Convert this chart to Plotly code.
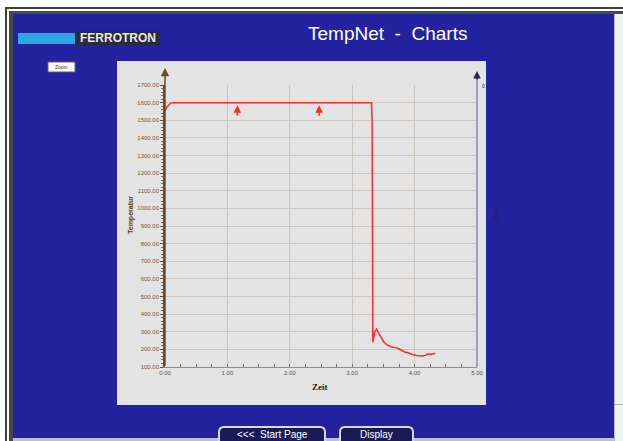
import plotly.graph_objects as go

# ---------------- data ----------------
time_h = [0.00, 0.03, 0.10, 1.00, 2.00, 3.00, 3.31, 3.32, 3.33, 3.36, 3.39, 3.42, 3.46, 3.50,
          3.56, 3.62, 3.69, 3.74, 3.79, 3.84, 3.88, 3.93, 3.98, 4.03, 4.08, 4.13, 4.17, 4.21,
          4.26, 4.33]
temperature = [1555, 1575, 1600, 1600, 1600, 1600, 1600, 1490, 240, 300, 315, 295, 270, 245,
               225, 215, 210, 205, 195, 185, 182, 178, 170, 165, 163, 163, 166, 174,
               172, 176]
marker_time = [1.16, 2.47]
marker_temp = [1585, 1585]
x_ticks = [0, 1, 2, 3, 4, 5]
y_ticks = list(range(100, 1800, 100))

# ---------------- layout helpers ----------------
W, H = 623, 441
L, R, T, B = 165, 477, 85, 367   # plot area in pixels


def px(x):
    return (x - L) / (R - L)


def py(y):
    return (B - y) / (B - T)


def rect(x0, y0, x1, y1, fill, line=None, lw=0):
    return dict(type="rect", xref="paper", yref="paper", layer="below",
                x0=px(x0), x1=px(x1), y0=py(y1), y1=py(y0),
                fillcolor=fill, line=dict(color=line or fill, width=lw))


def rounded(x0, y0, x1, y1, r, fill, line, lw):
    X0, X1 = px(x0), px(x1)
    Y0, Y1 = py(y1), py(y0)
    rx = r / (R - L)
    ry = r / (B - T)
    path = (f"M {X0+rx},{Y0} L {X1-rx},{Y0} Q {X1},{Y0} {X1},{Y0+ry} "
            f"L {X1},{Y1-ry} Q {X1},{Y1} {X1-rx},{Y1} L {X0+rx},{Y1} "
            f"Q {X0},{Y1} {X0},{Y1-ry} L {X0},{Y0+ry} Q {X0},{Y0} {X0+rx},{Y0} Z")
    return dict(type="path", xref="paper", yref="paper", layer="above", path=path,
                fillcolor=fill, line=dict(color=line, width=lw))


def label(text, x, y, size, color, family="Liberation Sans", angle=0):
    return dict(text=text, xref="paper", yref="paper", x=px(x), y=py(y),
                xanchor="center", yanchor="middle", showarrow=False, textangle=angle,
                font=dict(family=family, size=size, color=color))


BLUE = "#2323a0"
PANEL = "#e3e3e3"

shapes = [
    rect(5, 7, 623, 441, "#404040"),
    rect(7, 9, 623, 441, "#ffffff"),
    rect(9, 11, 623, 441, "#484848"),
    rect(13, 14, 614, 441, BLUE),
    rect(614, 14, 623, 441, "#eef4ee"),
    rect(614, 14, 615, 441, "#b8b8c8"),
    rect(614, 404, 623, 405, "#b0b0b0"),
    rect(13, 438, 614, 441, "#c0c0c8"),
    # logo
    rect(18, 33, 75, 44, "#29a8e2"),
    rect(75, 31, 160, 45, "#2a2a40"),
    # small zoom box
    rect(48, 62, 75, 72, "#ffffff", "#606060", 1),
    # chart panel
    rect(117, 61, 486, 405, PANEL),
    # right axis line
    dict(type="line", xref="paper", yref="paper", x0=1, x1=1, y0=0, y1=py(76),
         line=dict(color="#8a8ab8", width=1.5)),
    # buttons
    rounded(219, 427, 325, 452, 5, "#1a1a58", "#d8d8e8", 2),
    rounded(340, 427, 413, 452, 5, "#1a1a58", "#d8d8e8", 2),
]

annotations = [
    label("TempNet  -  Charts", 387, 34, 19, "#ffffff"),
    label("<b>FERROTRON</b>", 117.5, 38.5, 12, "#e8e8e8"),
    label("Zoom", 61.5, 67, 5, "#333333"),
    label("<b>Temperatur</b>", 131, 215, 7, "#5a3a1a", angle=-90),
    label("<b>Zeit</b>", 496, 215, 7, "#202060", angle=-90),
    label("<b>Zeit</b>", 320, 387, 9, "#222222", family="Liberation Serif"),
    label("0", 483, 86, 5, "#202060"),
    # axis arrows
    dict(text="", xref="paper", yref="paper", x=0, y=py(68), ax=0, ay=B - 68,
         axref="pixel", ayref="pixel", showarrow=True, arrowhead=2, arrowsize=1.1,
         arrowwidth=1.5, arrowcolor="#6b4a2b"),
    dict(text="", xref="paper", yref="paper", x=1, y=py(71), ax=0, ay=10,
         showarrow=True, arrowhead=2, arrowsize=1.0, arrowwidth=1.5, arrowcolor="#22226a"),
    # buttons text
    label("&lt;&lt;&lt;  Start Page", 272, 434, 10, "#ffffff"),
    label("Display", 376.5, 434, 10, "#ffffff"),
]

# red arrow markers from the data
for t, v in zip(marker_time, marker_temp):
    annotations.append(dict(text="", x=t, y=v, xref="x", yref="y", ax=0, ay=12,
                            showarrow=True, arrowhead=2, arrowsize=1.0, arrowwidth=1.5,
                            arrowcolor="#ff2a2a"))

fig = go.Figure()
fig.add_trace(go.Scatter(x=time_h, y=temperature, mode="lines",
                         line=dict(color="#ff2a2a", width=1.5), hoverinfo="skip",
                         showlegend=False))

fig.update_layout(
    width=W, height=H,
    margin=dict(l=L, r=W - R, t=T, b=H - B, pad=0),
    paper_bgcolor="#ffffff", plot_bgcolor=PANEL,
    shapes=shapes, annotations=annotations, showlegend=False,
    xaxis=dict(range=[0, 5], tickvals=x_ticks, tickformat=".2f",
               showgrid=True, gridcolor="#cdc6be", gridwidth=1, zeroline=False,
               showline=True, linecolor="#909090", linewidth=1,
               ticks="inside", ticklen=3, tickcolor="#707070",
               minor=dict(dtick=0.25, ticks="inside", ticklen=3, tickcolor="#707070"),
               tickfont=dict(family="Liberation Sans", size=6, color="#555555")),
    yaxis=dict(range=[100, 1700], tickvals=y_ticks, tickformat=".2f",
               showgrid=True, gridcolor="#cdc6be", gridwidth=1, zeroline=False,
               showline=True, linecolor="#6b4a2b", linewidth=1.5,
               ticks="outside", ticklen=3, tickcolor="#6b4a2b",
               minor=dict(dtick=20, ticks="outside", ticklen=2, tickcolor="#8b6a4b"),
               tickfont=dict(family="Liberation Sans", size=6, color="#7a5530")),
)

fig.write_html("out.html", config={"displayModeBar": False},
               post_script="document.body.style.margin='0';")
